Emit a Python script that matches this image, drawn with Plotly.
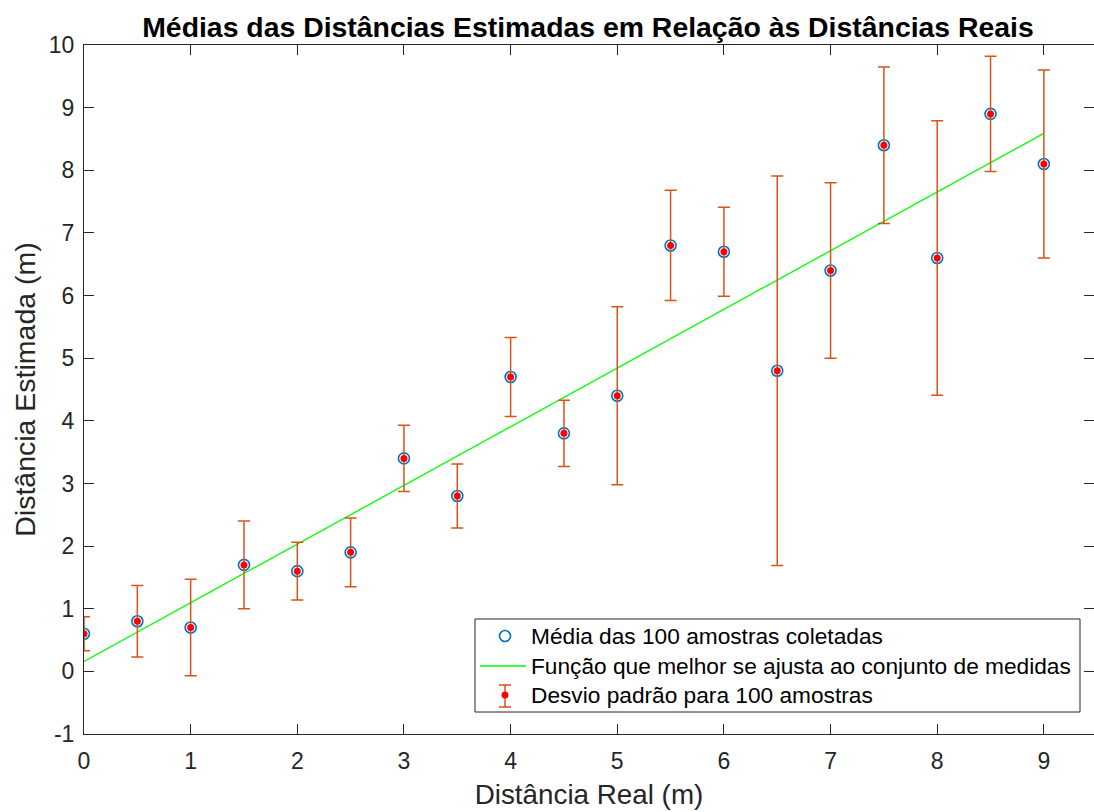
import numpy as np
import plotly.graph_objects as go

# Measured data: real distance (m), mean estimated distance (m), std dev over 100 samples
dist_real = [0, 0.5, 1, 1.5, 2, 2.5, 3, 3.5, 4, 4.5, 5, 5.5, 6, 6.5, 7, 7.5, 8, 8.5, 9]
dist_est_mean = [0.6, 0.8, 0.7, 1.7, 1.6, 1.9, 3.4, 2.8, 4.7, 3.8, 4.4,
                 6.8, 6.7, 4.8, 6.4, 8.4, 6.6, 8.9, 8.1]
dist_est_std = [0.27, 0.57, 0.77, 0.70, 0.46, 0.55, 0.53, 0.51, 0.63, 0.53, 1.42,
                0.88, 0.71, 3.11, 1.40, 1.25, 2.19, 0.92, 1.50]
x_ticks = [0, 1, 2, 3, 4, 5, 6, 7, 8, 9]
y_ticks = [-1, 0, 1, 2, 3, 4, 5, 6, 7, 8, 9, 10]
y_tick_text = ["-1", "0", "1", "2", "3", "4", "5", "6", "7", "8", "9", "10"]

legend_labels = ["Média das 100 amostras coletadas",
                 "Função que melhor se ajusta ao conjunto de medidas",
                 "Desvio padrão para 100 amostras"]

# Least-squares linear fit of the means
slope, intercept = np.polyfit(dist_real, dist_est_mean, 1)
fit_x = [dist_real[0], dist_real[-1]]
fit_y = [intercept + slope * v for v in fit_x]

BLUE = "#0072BD"
ORANGE = "#D95319"
RED = "#FF0000"
GREEN = "#00FF00"
AXIS = "#262626"
FONT = "Liberation Sans, Arial, sans-serif"

W, H = 1094, 812
M_L, M_R, M_T, M_B = 84, 0, 45, 78

fig = go.Figure()

fig.add_trace(go.Scatter(
    x=dist_real, y=dist_est_mean, mode="markers",
    marker=dict(symbol="circle-open", size=11, color=BLUE, line=dict(width=1.6, color=BLUE)),
    showlegend=False, hoverinfo="skip"))

fig.add_trace(go.Scatter(
    x=fit_x, y=fit_y, mode="lines",
    line=dict(color=GREEN, width=1.3),
    showlegend=False, hoverinfo="skip"))

fig.add_trace(go.Scatter(
    x=dist_real, y=dist_est_mean, mode="markers",
    marker=dict(symbol="circle", size=7, color=RED),
    error_y=dict(type="data", array=dist_est_std, visible=True,
                 color=ORANGE, thickness=1.5, width=6),
    showlegend=False, hoverinfo="skip"))

# Legend box drawn in paper coordinates (pixel helper)
pw = W - M_L - M_R
ph = H - M_T - M_B


def px_x(p):
    return (p - M_L) / pw


def px_y(p):
    return (H - M_B - p) / ph


shapes = []
shapes.append(dict(type="rect", xref="paper", yref="paper",
                   x0=px_x(475), x1=px_x(1080), y0=px_y(712), y1=px_y(619),
                   line=dict(color=AXIS, width=1), fillcolor="white", layer="above"))
# circle glyph
shapes.append(dict(type="circle", xref="paper", yref="paper",
                   x0=px_x(499.5), x1=px_x(510.5), y0=px_y(641.5), y1=px_y(630.5),
                   line=dict(color=BLUE, width=1.6), layer="above"))
# line glyph
shapes.append(dict(type="line", xref="paper", yref="paper",
                   x0=px_x(480), x1=px_x(526), y0=px_y(666), y1=px_y(666),
                   line=dict(color=GREEN, width=1.3), layer="above"))
# error bar glyph
shapes.append(dict(type="line", xref="paper", yref="paper",
                   x0=px_x(505), x1=px_x(505), y0=px_y(685), y1=px_y(707),
                   line=dict(color=ORANGE, width=1.5), layer="above"))
for cy in (685, 707):
    shapes.append(dict(type="line", xref="paper", yref="paper",
                       x0=px_x(499), x1=px_x(511), y0=px_y(cy), y1=px_y(cy),
                       line=dict(color=ORANGE, width=1.5), layer="above"))
shapes.append(dict(type="circle", xref="paper", yref="paper",
                   x0=px_x(501.5), x1=px_x(508.5), y0=px_y(698.5), y1=px_y(691.5),
                   line=dict(color=RED, width=0), fillcolor=RED, layer="above"))

annotations = []
for label, cy in zip(legend_labels, (636, 666, 695)):
    annotations.append(dict(text=label, xref="paper", yref="paper",
                            x=px_x(529), y=px_y(cy), xanchor="left", yanchor="middle",
                            showarrow=False, font=dict(family=FONT, size=22.7, color="#000000")))

fig.update_layout(
    width=W, height=H,
    margin=dict(l=M_L, r=M_R, t=M_T, b=M_B),
    paper_bgcolor="white", plot_bgcolor="white",
    font=dict(family=FONT, color=AXIS),
    title=dict(text="<b>Médias das Distâncias Estimadas em Relação às Distâncias Reais</b>",
               x=px_x(588), xref="paper", xanchor="center", y=1 - 27 / H, yanchor="middle",
               font=dict(family=FONT, size=28.4, color="#000000")),
    shapes=shapes, annotations=annotations,
    showlegend=False,
)

fig.update_xaxes(
    range=[0, 9.47], tickvals=x_ticks, ticks="inside", ticklen=10, tickwidth=1,
    tickcolor=AXIS, showline=True, linecolor=AXIS, linewidth=1, mirror="ticks",
    showgrid=False, zeroline=False, tickfont=dict(size=23, family=FONT, color=AXIS),
    ticklabelstandoff=6,
    title=dict(text="Distância Real (m)", font=dict(size=27.8, family=FONT, color=AXIS), standoff=11),
)
fig.update_yaxes(
    range=[-1, 10], tickvals=y_ticks, ticktext=y_tick_text, ticks="inside", ticklen=10, tickwidth=1,
    tickcolor=AXIS, showline=True, linecolor=AXIS, linewidth=1, mirror="ticks",
    showgrid=False, zeroline=False, tickfont=dict(size=23, family=FONT, color=AXIS),
    ticklabelstandoff=4,
    title=dict(text="Distância Estimada (m)", font=dict(size=28.5, family=FONT, color=AXIS), standoff=4),
)

fig.write_html("out.html")
